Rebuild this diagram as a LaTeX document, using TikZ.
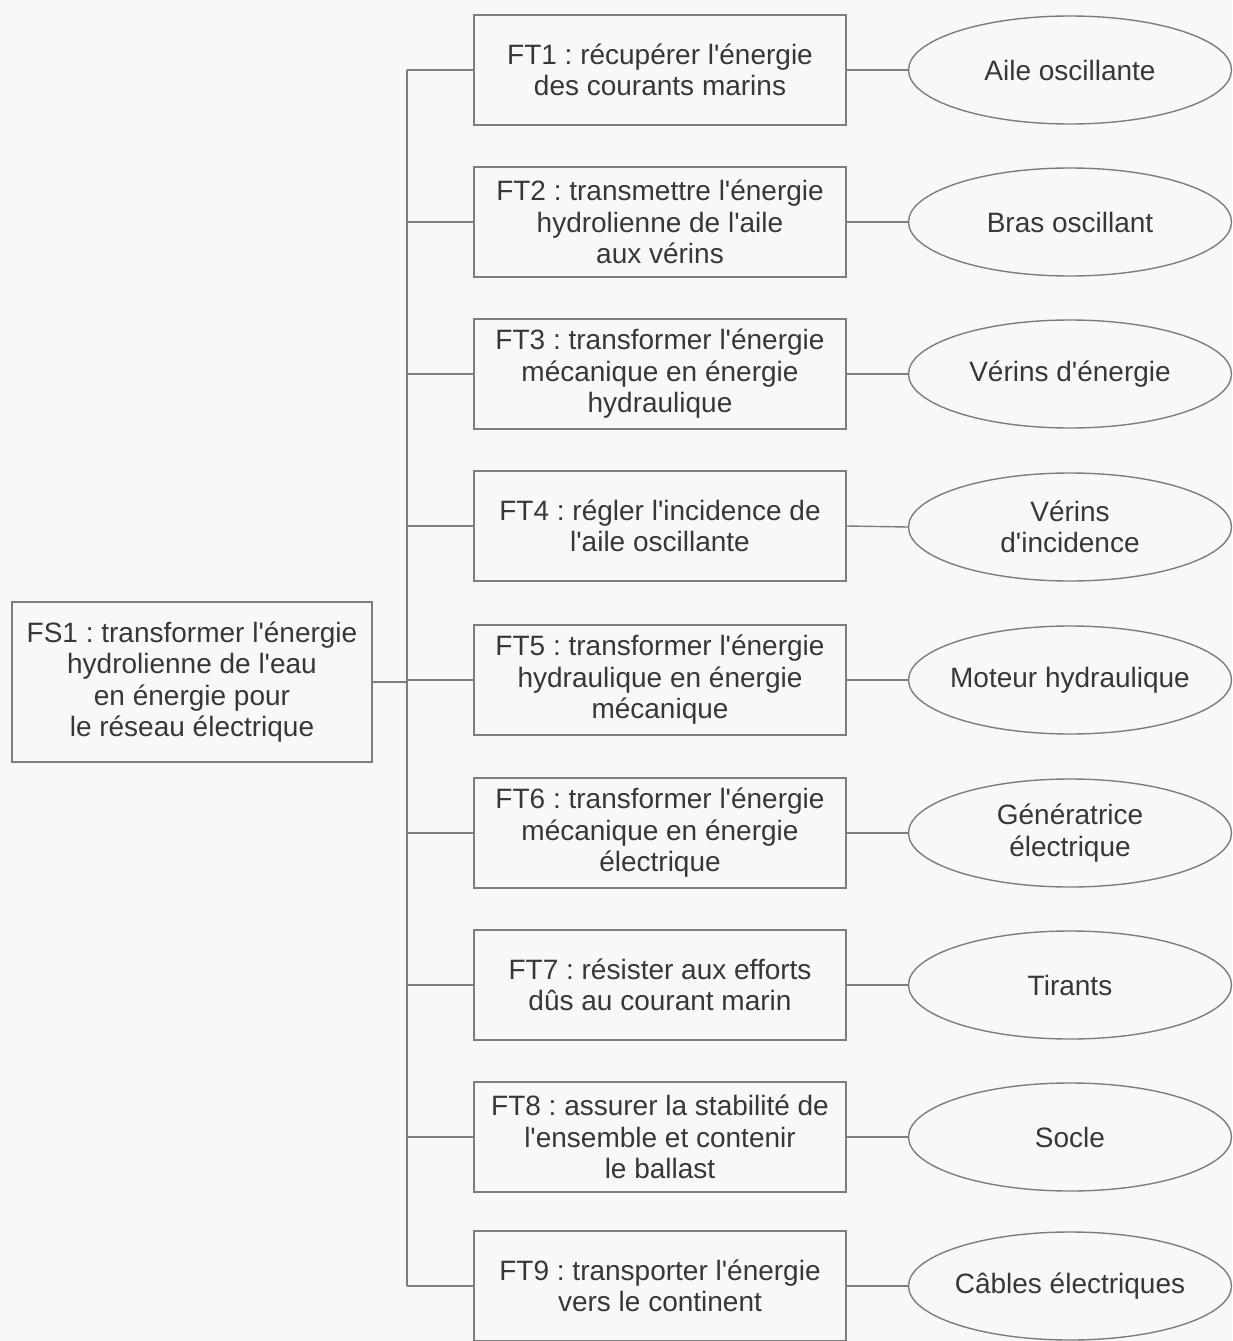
\documentclass[tikz,border=0pt]{standalone}
\usepackage{fontspec}
\setmainfont{Liberation Sans}
\usetikzlibrary{shapes.geometric}
\newcommand\q{\textquotesingle}
\frenchspacing
\definecolor{bg}{RGB}{248,248,248}
\definecolor{ln}{RGB}{125,125,125}
\definecolor{tx}{RGB}{55,55,55}
\begin{document}
\begin{tikzpicture}[x=1pt,y=-1pt,
  every node/.style={font=\fontsize{28}{31.5}\selectfont, text=tx, align=center, inner sep=0pt},
  ftbox/.style={draw=ln, line width=1.4pt, minimum width=372pt, minimum height=110pt},
  fsbox/.style={draw=ln, line width=1.4pt, minimum width=360pt, minimum height=160pt},
  solbox/.style={ellipse, draw=ln, line width=1.4pt, inner xsep=-40pt, minimum width=323pt, minimum height=108pt},
  link/.style={draw=ln, line width=1.4pt}]
\fill[bg] (0,0) rectangle (1232,1341);
\useasboundingbox (0,0) rectangle (1232,1341);

\node[fsbox] (FS1) at (192,682) {FS1 : transformer l\q{}énergie\\hydrolienne de l\q{}eau\\en énergie pour\\le réseau électrique};

\node[ftbox] (FT1) at (660,70) {FT1 : récupérer l\q{}énergie\\des courants marins};
\node[ftbox] (FT2) at (660,222) {FT2 : transmettre l\q{}énergie\\hydrolienne de l\q{}aile\\aux vérins};
\node[ftbox] (FT3) at (660,374) {FT3 : transformer l\q{}énergie\\mécanique en énergie\\hydraulique};
\node[ftbox] (FT4) at (660,526) {FT4 : régler l\q{}incidence de\\l\q{}aile oscillante};
\node[ftbox] (FT5) at (660,680) {FT5 : transformer l\q{}énergie\\hydraulique en énergie\\mécanique};
\node[ftbox] (FT6) at (660,833) {FT6 : transformer l\q{}énergie\\mécanique en énergie\\électrique};
\node[ftbox] (FT7) at (660,985) {FT7 : résister aux efforts\\dûs au courant marin};
\node[ftbox] (FT8) at (660,1137) {FT8 : assurer la stabilité de\\l\q{}ensemble et contenir\\le ballast};
\node[ftbox] (FT9) at (660,1286) {FT9 : transporter l\q{}énergie\\vers le continent};

\node[solbox] (S1) at (1070,70) {Aile oscillante};
\node[solbox] (S2) at (1070,222) {Bras oscillant};
\node[solbox] (S3) at (1070,374) {Vérins d\q{}énergie};
\node[solbox] (S4) at (1070,527) {Vérins\\d\q{}incidence};
\node[solbox] (S5) at (1070,680) {Moteur hydraulique};
\node[solbox] (S6) at (1070,833) {Génératrice\\électrique};
\node[solbox] (S7) at (1070,985) {Tirants};
\node[solbox] (S8) at (1070,1137) {Socle};
\node[solbox] (S9) at (1070,1286) {Câbles électriques};

\coordinate (Ttop) at (407,70);
\coordinate (Tbot) at (407,1286);
\draw[link] (Ttop) -- (Tbot);
\draw[link] (FS1.east) -- (FS1.east -| Ttop);
\foreach \i in {1,...,9} {
  \draw[link] (FT\i.west -| Ttop) -- (FT\i.west);
  \draw[link] (FT\i.east) -- (S\i.west);
}
\end{tikzpicture}
\end{document}
